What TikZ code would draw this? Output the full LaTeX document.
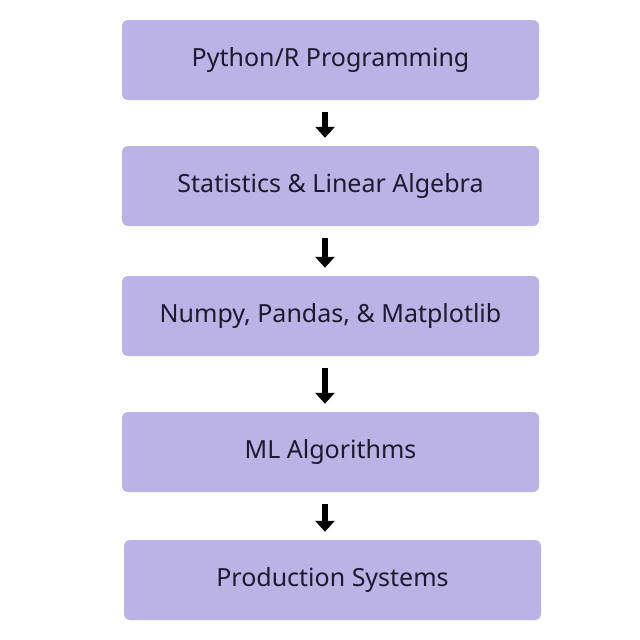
\documentclass[tikz,border=0pt]{standalone}
\usepackage{fontspec}
\setmainfont{Noto Sans}
\usetikzlibrary{arrows.meta}
\definecolor{boxc}{HTML}{BBB3E6}
\definecolor{txt}{HTML}{1C1B2E}
\begin{document}
\begin{tikzpicture}[x=1pt,y=1pt,
  stepbox/.style={fill=boxc,rounded corners=6pt,minimum width=417pt,minimum height=80pt,text=txt,font=\fontsize{25}{30}\selectfont},
  arr/.style={line width=6pt,draw=black,-{Triangle[length=11pt,width=19pt]},shorten <=12pt,shorten >=8pt}]
\useasboundingbox (0,0) rectangle (640,-640);
\coordinate (ax) at (325,0);
\node[stepbox] (a) at (330.5,-60) {Python/R Programming};
\node[stepbox] (b) at (330.5,-186) {Statistics \& Linear Algebra};
\node[stepbox] (c) at (330.5,-316) {Numpy, Pandas, \& Matplotlib};
\node[stepbox] (d) at (330.5,-452) {ML Algorithms};
\node[stepbox] (e) at (332.5,-580) {Production Systems};
\foreach \p/\q in {a/b,b/c,c/d,d/e}
  \draw[arr] (\p.south -| ax) -- (\q.north -| ax);
\end{tikzpicture}
\end{document}
